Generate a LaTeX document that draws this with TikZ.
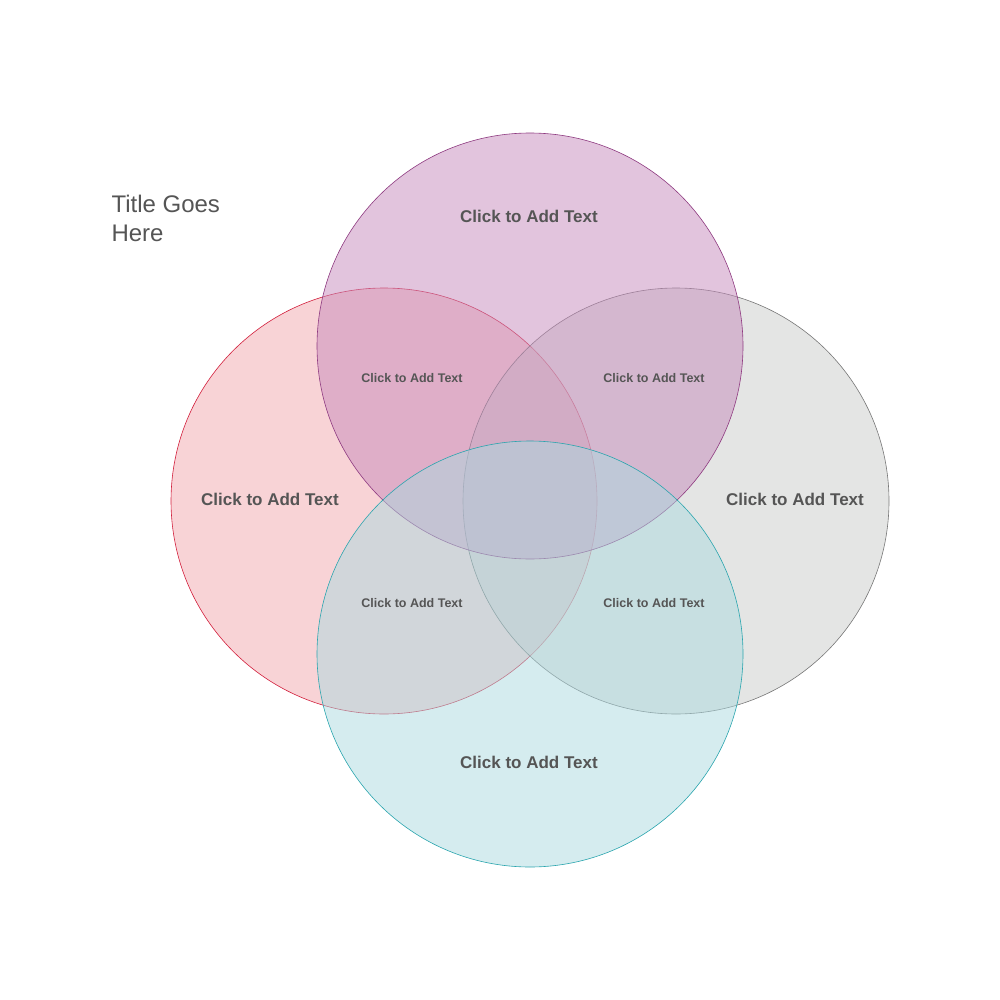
\documentclass[tikz,border=0pt]{standalone}
\usepackage{fontspec}
\setmainfont{Liberation Sans}
\definecolor{txtgray}{HTML}{555555}
\definecolor{topline}{HTML}{8E3A80}
\definecolor{topfill}{HTML}{C58ABB}
\definecolor{leftline}{HTML}{D21F3C}
\definecolor{leftfill}{HTML}{F2A7AE}
\definecolor{rightline}{HTML}{777777}
\definecolor{rightfill}{HTML}{C9CBC9}
\definecolor{botline}{HTML}{2AA5AE}
\definecolor{botfill}{HTML}{ABD9DF}
\tikzset{
  ring/.style={circle, minimum size=426pt, inner sep=0pt, fill opacity=0.5, line width=0.6pt},
  biglabel/.style={font=\fontsize{17}{20}\selectfont\bfseries, text=txtgray},
  smalllabel/.style={font=\fontsize{12.5}{15}\selectfont\bfseries, text=txtgray}
}
\begin{document}
\begin{tikzpicture}[x=1pt,y=-1pt]
    \useasboundingbox (0,0) rectangle (1000,1000);
    \node[ring, draw=leftline, fill=leftfill] (left) at (384,501) {};
    \node[ring, draw=rightline, fill=rightfill] (right) at (676,501) {};
    \node[ring, draw=topline, fill=topfill] (top) at (530,346) {};
    \node[ring, draw=botline, fill=botfill] (bottom) at (530,654) {};

    \node[biglabel] (ltop) at (529,216) {Click to Add Text};
    \node[biglabel] (lleft) at (270,499) {Click to Add Text};
    \node[biglabel] (lright) at (795,499) {Click to Add Text};
    \node[biglabel] (lbot) at (529,762) {Click to Add Text};
    \node[smalllabel] (tl) at (412,378) {Click to Add Text};
    \node[smalllabel] (tr) at (654,378) {Click to Add Text};
    \node[smalllabel] (bl) at (412,603) {Click to Add Text};
    \node[smalllabel] (br) at (654,603) {Click to Add Text};

    \node[font=\fontsize{24}{29}\selectfont, text=txtgray, align=left, anchor=north west] (title) at (108,192) {Title Goes\\Here};
\end{tikzpicture}
\end{document}
